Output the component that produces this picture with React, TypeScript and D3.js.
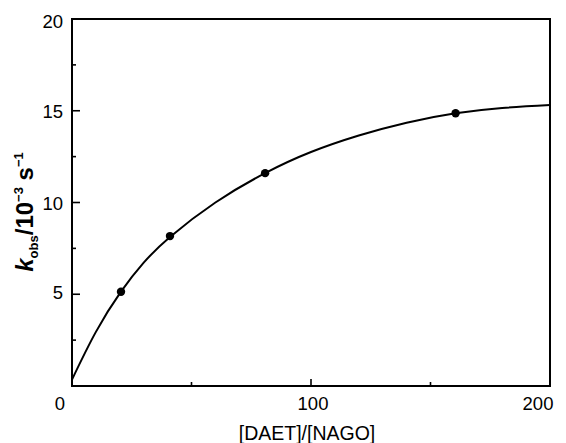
import React from "react";
import * as d3 from "d3";

// Measured data points
const ratio = [20.5, 41, 80.8, 160.5];
const kobs = [5.14, 8.17, 11.6, 14.86];

// Fitted curve
const curveX = [0, 10, 20.5, 30, 41, 60, 80.8, 100, 120, 140, 160.5, 180, 200];
const curveY = [0.35, 2.95, 5.14, 6.72, 8.12, 10.0, 11.6, 12.75, 13.65, 14.35, 14.86, 15.15, 15.31];

const xTickLabels = [0, 100, 200];
const yTickLabels = [5, 10, 15, 20];
const xMinorTicks = [50, 150];
const xMajorTicks = [100];
const yTicks = [2.5, 5, 7.5, 10, 12.5, 15, 17.5];

const W = 566;
const H = 443;
const M = { left: 72, right: 550, top: 19, bottom: 386 };

export default function App() {
  const x = d3.scaleLinear().domain([0, 200]).range([M.left, M.right]);
  const y = d3.scaleLinear().domain([0, 20]).range([M.bottom, M.top]);

  const line = d3
    .line<number>()
    .x((_, i) => x(curveX[i]))
    .y((d) => y(d))
    .curve(d3.curveNatural);

  const font = "'Liberation Sans', Arial, Helvetica, sans-serif";

  return (
    <svg
      width={W}
      height={H}
      style={{ position: "absolute", left: 0, top: 0, background: "#fff" }}
      fontFamily={font}
    >
      <rect x={0} y={0} width={W} height={H} fill="#fff" />
      {/* frame */}
      <rect
        x={M.left}
        y={M.top}
        width={M.right - M.left}
        height={M.bottom - M.top}
        fill="none"
        stroke="#000"
        strokeWidth={2}
      />
      {/* y ticks */}
      {yTicks.map((t) => (
        <line
          key={"yt" + t}
          x1={M.left}
          x2={M.left + (t % 5 === 0 ? 8 : 4)}
          y1={y(t)}
          y2={y(t)}
          stroke="#000"
          strokeWidth={1.6}
        />
      ))}
      {/* x ticks */}
      {xMinorTicks.map((t) => (
        <line key={"xm" + t} x1={x(t)} x2={x(t)} y1={M.bottom} y2={M.bottom - 4} stroke="#000" strokeWidth={1.6} />
      ))}
      {xMajorTicks.map((t) => (
        <line key={"xM" + t} x1={x(t)} x2={x(t)} y1={M.bottom} y2={M.bottom - 7} stroke="#000" strokeWidth={1.6} />
      ))}
      {/* y tick labels */}
      {yTickLabels.map((t) => (
        <text
          key={"yl" + t}
          x={63}
          y={y(t) + (t === 5 ? -2 : t === 20 ? 2 : 1)}
          textAnchor="end"
          dominantBaseline="central"
          fontSize={18.5}
          fill="#000"
        >
          {t}
        </text>
      ))}
      {/* x tick labels */}
      {xTickLabels.map((t) => (
        <text
          key={"xl" + t}
          x={x(t) + (t === 100 ? 2 : -12)}
          y={410}
          textAnchor="middle"
          fontSize={18.5}
          fill="#000"
        >
          {t}
        </text>
      ))}
      {/* x title */}
      <text x={307} y={440} textAnchor="middle" fontSize={19.5} fill="#000">
        [DAET]/[NAGO]
      </text>
      {/* y title */}
      <text
        transform={`translate(33,212) rotate(-90)`}
        textAnchor="middle"
        fontSize={24}
        fontWeight="bold"
        fill="#000"
      >
        <tspan fontStyle="italic">k</tspan>
        <tspan fontSize={13} dy={5}>obs</tspan>
        <tspan dy={-5}>/10</tspan>
        <tspan fontSize={13} dy={-10}>−3</tspan>
        <tspan dy={10}> s</tspan>
        <tspan fontSize={13} dy={-10}>−1</tspan>
      </text>
      {/* curve */}
      <path d={line(curveY) || ""} fill="none" stroke="#000" strokeWidth={2} />
      {/* points */}
      {ratio.map((r, i) => (
        <circle key={"p" + i} cx={x(r)} cy={y(kobs[i])} r={4.2} fill="#000" />
      ))}
    </svg>
  );
}
